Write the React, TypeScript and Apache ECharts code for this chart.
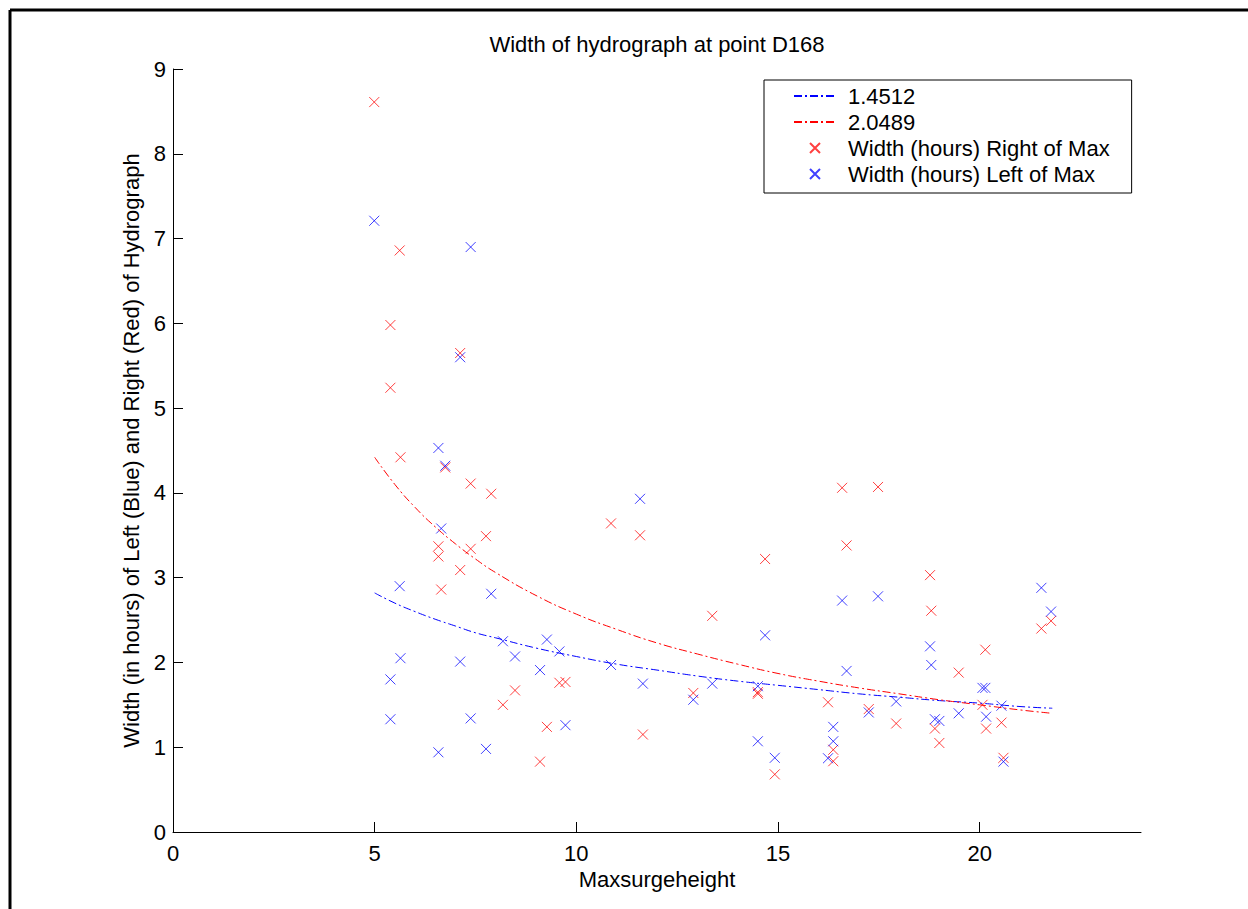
import React, { useEffect, useRef } from 'react';
import * as echarts from 'echarts';

// Maxsurgeheight (x) shared by both scatter series
const maxSurgeHeight = [
  4.99, 5.39, 5.39, 5.62, 5.64, 6.58, 6.58, 6.65, 6.75, 7.12,
  7.12, 7.38, 7.38, 7.76, 7.89, 8.18, 8.48, 9.10, 9.27, 9.58,
  9.73, 10.86, 11.58, 11.65, 12.90, 13.37, 14.50, 14.50, 14.68, 14.92,
  16.24, 16.37, 16.37, 16.59, 16.70, 17.25, 17.48, 17.93, 18.77, 18.80,
  18.89, 19.00, 19.48, 20.07, 20.14, 20.16, 20.54, 20.59, 21.53, 21.77,
];
// Width (hours) Right of Max (red)
const widthRight = [
  8.61, 5.98, 5.24, 6.86, 4.42, 3.37, 3.25, 2.86, 4.30, 5.65,
  3.09, 4.11, 3.34, 3.49, 3.99, 1.50, 1.67, 0.83, 1.24, 1.76,
  1.77, 3.64, 3.50, 1.15, 1.64, 2.55, 1.65, 1.63, 3.22, 0.68,
  1.53, 0.97, 0.835, 4.06, 3.38, 1.45, 4.07, 1.28, 3.03, 2.61,
  1.22, 1.05, 1.88, 1.50, 2.15, 1.22, 1.29, 0.875, 2.40, 2.49,
];
// Width (hours) Left of Max (blue)
const widthLeft = [
  7.21, 1.80, 1.33, 2.90, 2.05, 4.53, 0.94, 3.58, 4.32, 5.60,
  2.01, 6.90, 1.34, 0.98, 2.81, 2.25, 2.07, 1.91, 2.27, 2.13,
  1.26, 1.97, 3.93, 1.75, 1.56, 1.75, 1.72, 1.07, 2.32, 0.875,
  0.87, 1.24, 1.07, 2.73, 1.90, 1.41, 2.78, 1.54, 2.19, 1.97,
  1.33, 1.31, 1.40, 1.70, 1.70, 1.36, 1.49, 0.83, 2.88, 2.60,
];
// fitted curves
const fitX = [5, 5.5, 6, 6.5, 7, 7.5, 8, 9, 10, 11, 12, 13, 14, 15, 16, 17, 18, 19, 20, 21, 21.8];
const fitLeft = [2.82, 2.70, 2.60, 2.51, 2.43, 2.35, 2.29, 2.17, 2.07, 1.98, 1.91, 1.84, 1.78, 1.73, 1.68, 1.63, 1.59, 1.55, 1.52, 1.48, 1.46];
const fitRight = [4.42, 4.10, 3.83, 3.60, 3.40, 3.22, 3.06, 2.79, 2.57, 2.39, 2.23, 2.10, 1.98, 1.87, 1.78, 1.70, 1.63, 1.56, 1.50, 1.44, 1.40];

const xTicks = [0, 5, 10, 15, 20];
const yTicks = [0, 1, 2, 3, 4, 5, 6, 7, 8, 9];

const legendNames = ['1.4512', '2.0489', 'Width (hours) Right of Max', 'Width (hours) Left of Max'];

const FONT = '"Liberation Sans", Arial, Helvetica, sans-serif';
const FS = 22;
const XMARK = 'path://M0,0L10,10M10,0L0,10';
const RED = '#ff0000';
const BLUE = '#0000ff';

export default function App() {
  const ref = useRef<HTMLDivElement>(null);
  useEffect(() => {
    if (!ref.current) return;
    const chart = echarts.init(ref.current, null, { renderer: 'svg' });
    chart.setOption({
      animation: false,
      backgroundColor: '#ffffff',
      textStyle: { fontFamily: FONT },
      grid: { left: 173, right: 107, top: 69, bottom: 77 },
      graphic: [
        { type: 'line', silent: true, shape: { x1: 10, y1: 10, x2: 1248, y2: 10 }, style: { stroke: '#000', lineWidth: 3 } },
        { type: 'line', silent: true, shape: { x1: 10, y1: 10, x2: 10, y2: 909 }, style: { stroke: '#000', lineWidth: 3 } },
        {
          type: 'text',
          x: 657,
          y: 44,
          silent: true,
          style: {
            text: 'Width of hydrograph at point D168',
            font: `${FS}px ${FONT}`,
            fill: '#000',
            textAlign: 'center',
            textVerticalAlign: 'middle',
          },
        },
      ],
      legend: {
        orient: 'vertical',
        left: 764,
        top: 80,
        padding: [5, 22, 8, 29],
        itemGap: 4,
        itemWidth: 42,
        itemHeight: 10,
        backgroundColor: '#ffffff',
        borderColor: '#000',
        borderWidth: 1,
        borderRadius: 0,
        selectedMode: false,
        textStyle: { fontSize: FS, color: '#000', lineHeight: 22, fontFamily: FONT, padding: [0, 0, 0, 7] },
        data: [
          { name: legendNames[0], itemStyle: { opacity: 0 } },
          { name: legendNames[1], itemStyle: { opacity: 0 } },
          { name: legendNames[2] },
          { name: legendNames[3] },
        ],
      },
      xAxis: {
        type: 'value',
        min: 0,
        max: 24,
        interval: 5,
        name: 'Maxsurgeheight',
        nameLocation: 'middle',
        nameGap: 33,
        nameTextStyle: { fontSize: FS, color: '#000', fontFamily: FONT },
        axisLine: { show: true, onZero: false, lineStyle: { color: '#000', width: 1 } },
        axisTick: { show: true, inside: true, length: 10, customValues: xTicks, lineStyle: { color: '#000' } },
        axisLabel: { customValues: xTicks, fontSize: FS, color: '#000', margin: 10, fontFamily: FONT },
        splitLine: { show: false },
      },
      yAxis: {
        type: 'value',
        min: 0,
        max: 9,
        interval: 1,
        name: 'Width (in hours) of Left (Blue) and Right (Red) of Hydrograph',
        nameLocation: 'middle',
        nameGap: 28,
        nameTextStyle: { fontSize: FS, color: '#000', fontFamily: FONT },
        axisLine: { show: true, onZero: false, lineStyle: { color: '#000', width: 1 } },
        axisTick: { show: true, inside: true, length: 10, customValues: yTicks, lineStyle: { color: '#000' } },
        axisLabel: { customValues: yTicks, fontSize: FS, color: '#000', margin: 7, fontFamily: FONT },
        splitLine: { show: false },
      },
      series: [
        {
          type: 'line',
          name: legendNames[0],
          data: fitX.map((x, i) => [x, fitLeft[i]]),
          symbol: 'none',
          showSymbol: false,
          smooth: true,
          silent: true,
          lineStyle: { color: BLUE, width: 1, type: [8, 3, 2, 3] },
          itemStyle: { color: BLUE },
          z: 3,
        },
        {
          type: 'line',
          name: legendNames[1],
          data: fitX.map((x, i) => [x, fitRight[i]]),
          symbol: 'none',
          showSymbol: false,
          smooth: true,
          silent: true,
          lineStyle: { color: RED, width: 1, type: [8, 3, 2, 3] },
          itemStyle: { color: RED },
          z: 3,
        },
        {
          type: 'scatter',
          name: legendNames[2],
          data: maxSurgeHeight.map((x, i) => [x, widthRight[i]]),
          symbol: XMARK,
          symbolSize: 10,
          silent: true,
          itemStyle: { color: 'rgba(0,0,0,0)', borderColor: RED, borderWidth: 1, opacity: 0.75 },
          z: 2,
        },
        {
          type: 'scatter',
          name: legendNames[3],
          data: maxSurgeHeight.map((x, i) => [x, widthLeft[i]]),
          symbol: XMARK,
          symbolSize: 10,
          silent: true,
          itemStyle: { color: 'rgba(0,0,0,0)', borderColor: BLUE, borderWidth: 1, opacity: 0.75 },
          z: 2,
        },
      ],
    });
    return () => chart.dispose();
  }, []);
  return (
    <div
      ref={ref}
      style={{ position: 'fixed', left: 0, top: 0, width: 1248, height: 909, background: '#fff' }}
    />
  );
}
